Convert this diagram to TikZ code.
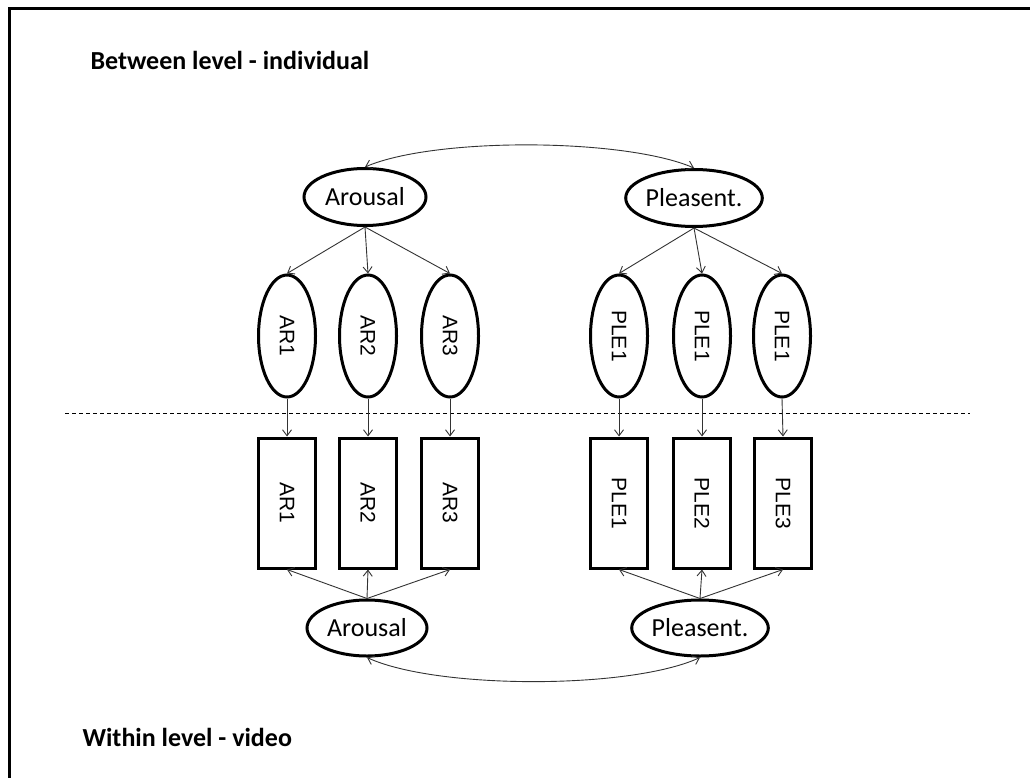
\documentclass[tikz,border=0pt]{standalone}
\usepackage{fontspec}
\setmainfont{Carlito}
\newfontfamily\arialf{Liberation Sans}
\usetikzlibrary{shapes.geometric,arrows.meta,calc}
\begin{document}
\begin{tikzpicture}[x=1pt,y=-1pt,
  bigell/.style={ellipse,draw,line width=3pt,inner sep=0pt,minimum width=122pt,minimum height=57pt,font=\fontsize{26}{28}\selectfont},
  smallell/.style={ellipse,draw,line width=3pt,inner sep=0pt,minimum width=57pt,minimum height=122pt},
  obsbox/.style={rectangle,draw,line width=3pt,inner sep=0pt,minimum width=57pt,minimum height=130pt},
  vlabel/.style={rotate=-90,font=\arialf\fontsize{21}{23}\selectfont},
  arr/.style={draw=black!80,line width=0.9pt,-{Straight Barb[length=6pt,width=9pt]}},
  darr/.style={draw=black!80,line width=0.9pt,{Straight Barb[length=6pt,width=9pt]}-{Straight Barb[length=6pt,width=9pt]}},
  title/.style={anchor=west,font=\bfseries\fontsize{26}{28}\selectfont}]
\useasboundingbox (0,0) rectangle (1030,778);
\fill[white] (0,0) rectangle (1030,778);
\draw[line width=3pt] (9,778) -- (9,9) -- (1030,9);

\node[title] (t1) at (87,60) {Between level - individual};
\node[title] (t2) at (79,737) {Within level - video};

% top factors
\node[bigell] (TA) at (365,197) {Arousal};
\node[bigell] (TP) at (694,198) {Pleasent.};

% between-level indicators
\node[smallell] (e1) at (287,336) {};
\node[smallell] (e2) at (368,336) {};
\node[smallell] (e3) at (450,336) {};
\node[smallell] (e4) at (619,336) {};
\node[smallell] (e5) at (702,336) {};
\node[smallell] (e6) at (782,336) {};
\node[vlabel] (l1) at (e1) {AR1};
\node[vlabel] (l2) at (e2) {AR2};
\node[vlabel] (l3) at (e3) {AR3};
\node[vlabel] (l4) at (e4) {PLE1};
\node[vlabel] (l5) at (e5) {PLE1};
\node[vlabel] (l6) at (e6) {PLE1};

% dashed separator
\coordinate (dl) at (65,413);
\coordinate (dr) at (970,413);
\draw[line width=0.9pt,dash pattern=on 4pt off 3pt] (dl) -- (dr);

% observed boxes
\node[obsbox] (r1) at (287,503) {};
\node[obsbox] (r2) at (368,503) {};
\node[obsbox] (r3) at (450,503) {};
\node[obsbox] (r4) at (619,503) {};
\node[obsbox] (r5) at (702,503) {};
\node[obsbox] (r6) at (783,503) {};
\node[vlabel] (m1) at (r1) {AR1};
\node[vlabel] (m2) at (r2) {AR2};
\node[vlabel] (m3) at (r3) {AR3};
\node[vlabel] (m4) at (r4) {PLE1};
\node[vlabel] (m5) at (r5) {PLE2};
\node[vlabel] (m6) at (r6) {PLE3};

% bottom factors
\node[bigell,minimum width=120pt,minimum height=56pt] (BA) at (367,628) {Arousal};
\node[bigell,minimum width=120pt,minimum height=56pt] (BP) at (700,628) {Pleasent.};

% loadings
\foreach \e in {e1,e2,e3} \draw[arr] (TA.south) -- (\e.north);
\foreach \e in {e4,e5,e6} \draw[arr] (TP.south) -- (\e.north);
\foreach \i in {1,...,6} \draw[arr] (e\i.south) -- (r\i.north);
\foreach \r in {r1,r2,r3} \draw[arr] (BA.north) -- (\r.south);
\foreach \r in {r4,r5,r6} \draw[arr] (BP.north) -- (\r.south);

% covariances
\draw[darr] (TA.north) .. controls ($(TA.north)+(70,-30)$) and ($(TP.north)+(-70,-30)$) .. (TP.north);
\draw[darr] (BA.south) .. controls ($(BA.south)+(70,32)$) and ($(BP.south)+(-70,32)$) .. (BP.south);
\end{tikzpicture}
\end{document}
